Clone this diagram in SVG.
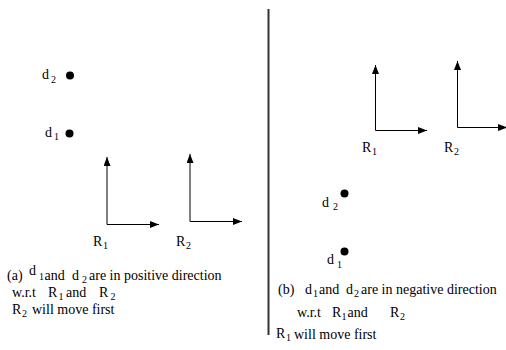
<svg xmlns="http://www.w3.org/2000/svg" width="506" height="350" viewBox="0 0 506 350">
<style>
text{font-family:"Liberation Serif","Times New Roman",serif;font-size:14px;fill:#000}
tspan.sub{font-size:10px}
.ax{stroke:#000;stroke-width:1;fill:none}
.dot{fill:#000}
</style>
<defs>
<marker id="ah" markerUnits="userSpaceOnUse" markerWidth="10" markerHeight="8" refX="9" refY="3.5" orient="auto">
<path d="M0,0 L9,3.5 L0,7 Z" fill="#000"/>
</marker>
</defs>
<rect width="506" height="350" fill="#fff"/>
<line x1="268.5" y1="9" x2="268.5" y2="335" stroke="#333" stroke-width="2"/>
<g id="connectors">
<path class="ax" d="M107,224.5 V157" marker-end="url(#ah)"/>
<path class="ax" d="M107,224.5 H159" marker-end="url(#ah)"/>
<path class="ax" d="M190,221.5 V154" marker-end="url(#ah)"/>
<path class="ax" d="M190,221.5 H242" marker-end="url(#ah)"/>
<path class="ax" d="M375.5,130.5 V65" marker-end="url(#ah)"/>
<path class="ax" d="M375.5,130.5 H427" marker-end="url(#ah)"/>
<path class="ax" d="M457.5,127.5 V61" marker-end="url(#ah)"/>
<path class="ax" d="M457.5,127.5 H507" marker-end="url(#ah)"/>
</g>
<g id="a-d2"><text><tspan x="42" y="79">d</tspan><tspan class="sub" x="51" y="83">2</tspan></text><circle class="dot" cx="70" cy="75.5" r="4"/></g>
<g id="a-d1"><text><tspan x="45" y="137">d</tspan><tspan class="sub" x="54" y="140">1</tspan></text><circle class="dot" cx="69.5" cy="133.5" r="4"/></g>
<g id="a-R1"><text><tspan x="93" y="246">R</tspan><tspan class="sub" x="103" y="249">1</tspan></text></g>
<g id="a-R2"><text><tspan x="176" y="246">R</tspan><tspan class="sub" x="186" y="249">2</tspan></text></g>
<g id="b-R1"><text><tspan x="362" y="152">R</tspan><tspan class="sub" x="372" y="155">1</tspan></text></g>
<g id="b-R2"><text><tspan x="444" y="152">R</tspan><tspan class="sub" x="454" y="155">2</tspan></text></g>
<g id="b-d2"><text><tspan x="322" y="207">d</tspan><tspan class="sub" x="333" y="210">2</tspan></text><circle class="dot" cx="344.5" cy="193.5" r="4"/></g>
<g id="b-d1"><text><tspan x="327" y="264">d</tspan><tspan class="sub" x="337" y="268">1</tspan></text><circle class="dot" cx="344.5" cy="251.5" r="4"/></g>
<g id="caption-a">
<text><tspan x="7" y="280">(a)</tspan><tspan x="29" y="275">d</tspan><tspan class="sub" x="39" y="280">1</tspan><tspan x="44.5" y="280">and</tspan><tspan x="72" y="280">d</tspan><tspan class="sub" x="82" y="283">2</tspan><tspan x="89" y="280">are in positive direction</tspan></text>
<text><tspan x="12" y="297">w.r.t</tspan><tspan x="48" y="297">R</tspan><tspan class="sub" x="58.5" y="300">1</tspan><tspan x="66" y="297">and</tspan><tspan x="99" y="297">R</tspan><tspan class="sub" x="110.5" y="300">2</tspan></text>
<text><tspan x="12" y="314">R</tspan><tspan class="sub" x="22" y="317">2</tspan><tspan x="32" y="314">will move first</tspan></text>
</g>
<g id="caption-b">
<text><tspan x="278" y="294">(b)</tspan><tspan x="305" y="294">d</tspan><tspan class="sub" x="313" y="297">1</tspan><tspan x="319" y="294">and</tspan><tspan x="346" y="294">d</tspan><tspan class="sub" x="354" y="297">2</tspan><tspan x="361" y="294">are in negative direction</tspan></text>
<text><tspan x="297" y="317">w.r.t</tspan><tspan x="332" y="317">R</tspan><tspan class="sub" x="341.5" y="320">1</tspan><tspan x="347.5" y="317">and</tspan><tspan x="390" y="317">R</tspan><tspan class="sub" x="400" y="320">2</tspan></text>
<text><tspan x="276" y="338">R</tspan><tspan class="sub" x="286" y="341">1</tspan><tspan x="294" y="339">will move first</tspan></text>
</g>
</svg>
